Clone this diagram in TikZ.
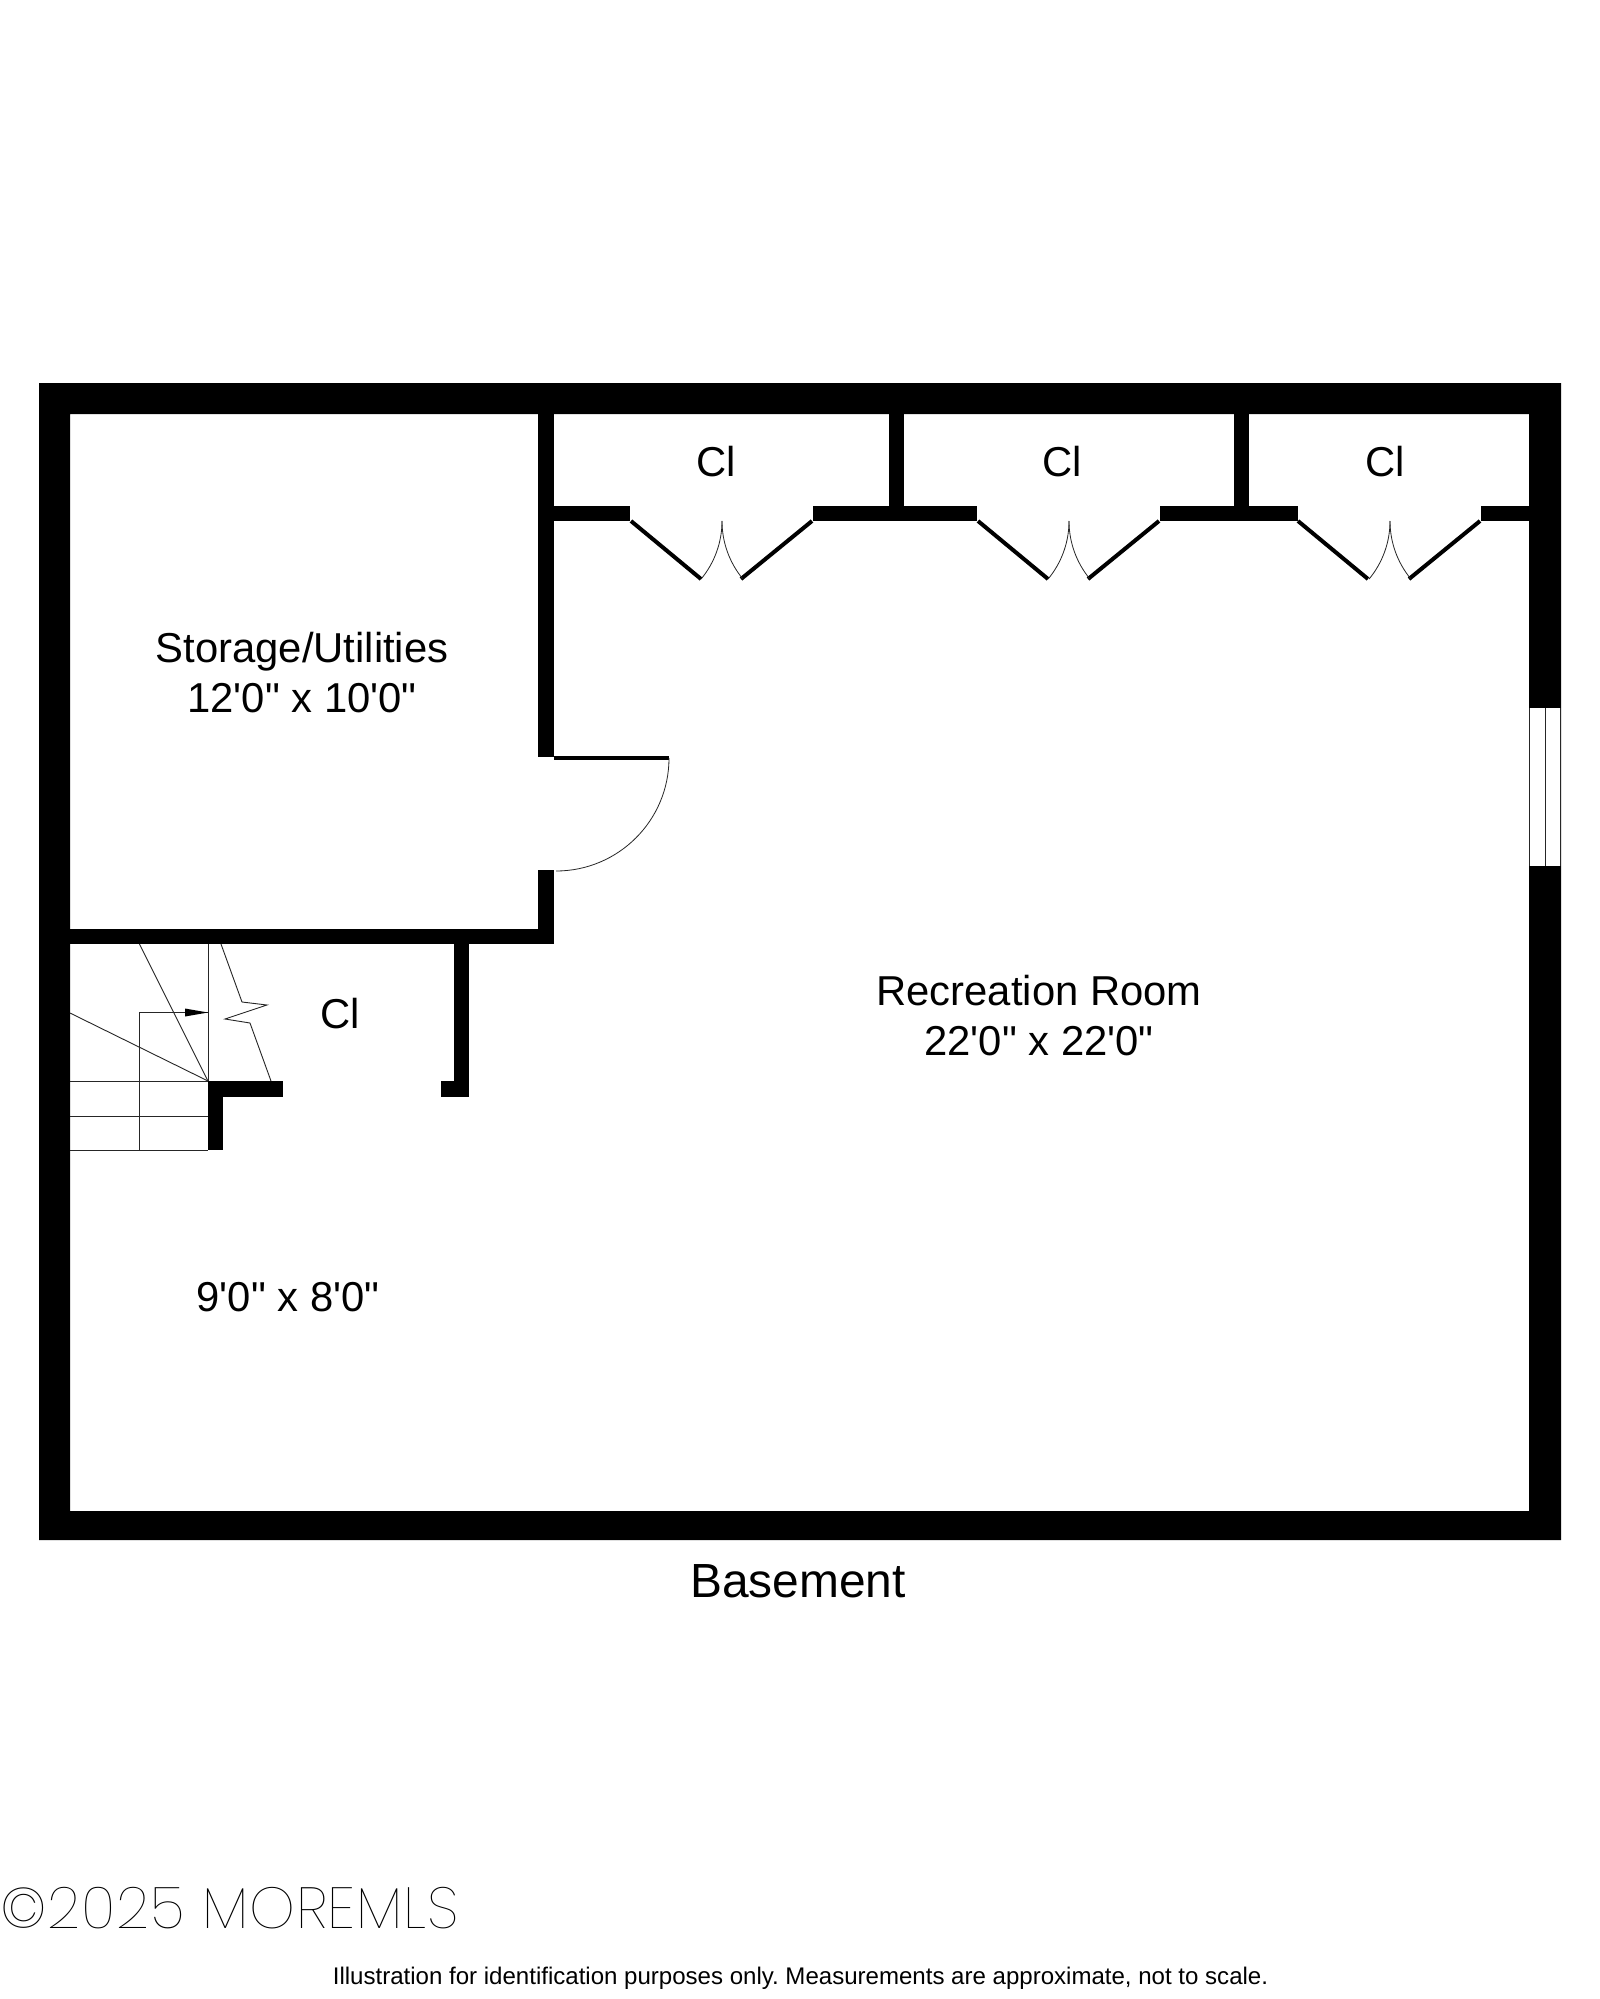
\documentclass[tikz,border=0pt]{standalone}
\usepackage{fontspec}
\newfontfamily\lab{Liberation Sans}
\newfontfamily\wmfont[LetterSpace=1.5]{Poppins Thin}
\tikzset{
  wall/.style={fill=black,draw=none},
  thin line/.style={draw=black!85,line width=0.9pt},
  leaf/.style={draw=black,line width=4pt},
  swing/.style={draw=black!85,line width=0.8pt},
  roomtext/.style={font=\lab\fontsize{41.8}{50}\selectfont,align=center,anchor=base,inner sep=0pt,text=black},
}
\begin{document}
\frenchspacing
\begin{tikzpicture}[x=1pt,y=-1pt]
\useasboundingbox (0,0) rectangle (1600,1999);
\fill[white] (0,0) rectangle (1600,1999);
% outer walls
\path[wall,even odd rule] (39,383) rectangle (1561,1540) (70,414) rectangle (1529,1511);
% window
\fill[white] (1529,708) rectangle (1561,866);
\draw[thin line] (1529.5,708) -- (1529.5,866);
\draw[thin line] (1545,708) -- (1545,866);
\draw[thin line] (1560.5,708) -- (1560.5,866);
% storage walls
\path[wall] (538,414) rectangle (554,757);
\path[wall] (538,870) rectangle (554,944);
\path[wall] (70,929) rectangle (554,944);
% closet stub
\path[wall] (454,944) rectangle (469,1097);
\path[wall] (441,1081) rectangle (469,1097);
% stair corner
\path[wall] (208,1081) rectangle (283,1097);
\path[wall] (208,1081) rectangle (223,1150);
% closet row
\path[wall] (889,414) rectangle (904,521);
\path[wall] (1234,414) rectangle (1249,521);
\path[wall] (554,506) rectangle (630,521);
\path[wall] (813,506) rectangle (977,521);
\path[wall] (1160,506) rectangle (1298,521);
\path[wall] (1481,506) rectangle (1529,521);
% door leaves and swings
\foreach \ax/\bx/\mx in {631/812/722, 978/1159/1069, 1298/1480/1390}{
  \draw[leaf] (\ax,521) -- ++(70,58);
  \draw[leaf] (\bx,521) -- ++(-71,58);
  \draw[swing] (\mx,521) arc[start angle=0,end angle=39.6,radius=91];
  \draw[swing] (\mx,521) arc[start angle=180,end angle=140.8,radius=91];
}
% storage door
\path[wall] (554,756) rectangle (669,760);
\draw[swing] (669,758) arc[start angle=0,end angle=90,radius=113];
% stairs
\draw[thin line] (70,1081) -- (208,1081);
\draw[thin line] (70,1116) -- (208,1116);
\draw[thin line] (70,1150) -- (208,1150);
\draw[thin line] (139,1150) -- (139,1012) -- (208,1012);
\fill[black] (208,1012.5) -- (185,1008.5) -- (185,1016.5) -- cycle;
\draw[thin line] (208,944) -- (208,1081);
\draw[thin line] (139.5,944) -- (208,1081);
\draw[thin line] (70,1013) -- (208,1081);
\draw[thin line] (221,944) -- (242,1002) -- (267,1005) -- (225,1019) -- (250,1023) -- (271,1081);
% labels
\node[roomtext] (storage) at (302,712) {Storage/Utilities\\12'0" x 10'0"};
\node[roomtext] (rec) at (1039,1055.5) {Recreation Room\\22'0" x 22'0"};
\node[roomtext] (cla) at (716,476) {Cl};
\node[roomtext] (clb) at (1062,476) {Cl};
\node[roomtext] (clc) at (1385,476) {Cl};
\node[roomtext] (cld) at (340,1028) {Cl};
\node[roomtext] (lower) at (288,1311) {9'0" x 8'0"};
\node[roomtext,font=\lab\fontsize{47.9}{56}\selectfont] (base) at (798,1597) {Basement};
\node[roomtext,font=\lab\fontsize{24.05}{28}\selectfont] (note) at (800.5,1984) {Illustration for identification purposes only. Measurements are approximate, not to scale.};
\node[anchor=base west,inner sep=0pt,font=\wmfont\fontsize{58}{60}\selectfont] (wm) at (0,1928) {©2025 MOREMLS};
\end{tikzpicture}
\end{document}
